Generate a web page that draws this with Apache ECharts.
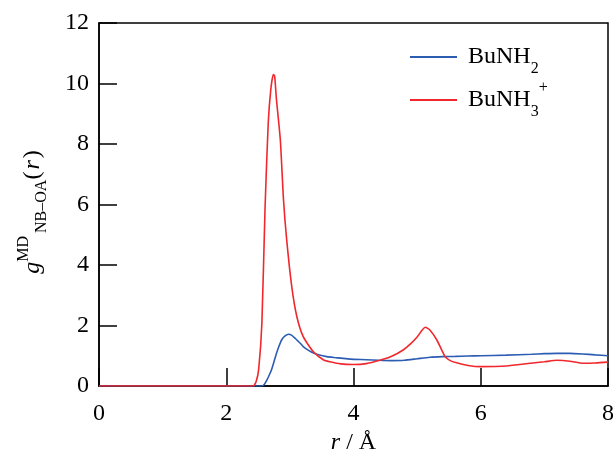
<!DOCTYPE html>
<html>
<head>
<meta charset="utf-8">
<script src="https://cdn.jsdelivr.net/npm/echarts@6/dist/echarts.min.js"></script>
<style>html,body{margin:0;padding:0;background:#fff}#c{width:616px;height:454px}</style>
</head>
<body>
<div id="c"></div>
<script>
// ---- data ----
const xTicks = [0, 2, 4, 6, 8];
const yTicks = [0, 2, 4, 6, 8, 10, 12];
const seriesNames = ['BuNH2', 'BuNH3+'];

const rBlue = [0, 2.5, 2.56, 2.6, 2.64, 2.68, 2.71, 2.75, 2.79, 2.83, 2.87, 2.92, 2.98, 3.02, 3.08, 3.12, 3.16, 3.21, 3.3, 3.37, 3.45, 3.58, 3.7, 3.8, 3.95, 4.2, 4.4, 4.6, 4.8, 5.0, 5.2, 5.4, 5.6, 5.8, 6.0, 6.4, 6.8, 7.0, 7.2, 7.4, 7.6, 7.8, 8.0];
const gBlue = [0, 0, 0, 0.06, 0.2, 0.38, 0.53, 0.8, 1.08, 1.32, 1.52, 1.65, 1.71, 1.69, 1.58, 1.5, 1.42, 1.3, 1.17, 1.09, 1.03, 0.97, 0.94, 0.92, 0.89, 0.87, 0.85, 0.84, 0.85, 0.9, 0.95, 0.97, 0.98, 0.99, 1.0, 1.02, 1.05, 1.07, 1.08, 1.08, 1.06, 1.03, 1.0];

const rRed = [0, 2.42, 2.47, 2.51, 2.56, 2.61, 2.66, 2.7, 2.74, 2.76, 2.79, 2.85, 2.9, 2.95, 3.03, 3.11, 3.21, 3.37, 3.53, 3.63, 3.8, 4.0, 4.2, 4.4, 4.6, 4.78, 4.9, 5.0, 5.08, 5.13, 5.2, 5.31, 5.44, 5.52, 5.62, 5.8, 6.0, 6.4, 6.78, 7.0, 7.2, 7.4, 7.61, 7.8, 8.0];
const gRed = [0, 0, 0.15, 0.56, 2.07, 5.9, 8.7, 9.8, 10.3, 10.25, 9.45, 8.13, 6.15, 4.83, 3.28, 2.29, 1.63, 1.13, 0.86, 0.8, 0.73, 0.71, 0.74, 0.84, 0.98, 1.19, 1.4, 1.62, 1.85, 1.94, 1.85, 1.52, 0.97, 0.84, 0.77, 0.68, 0.64, 0.66, 0.75, 0.8, 0.85, 0.82, 0.75, 0.76, 0.79];

const FONT = 'Liberation Serif';

const chart = echarts.init(document.getElementById('c'), null, {renderer: 'canvas'});
const zip = (xs, ys) => xs.map((x, i) => [x, ys[i]]);

chart.setOption({
  animation: false,
  backgroundColor: '#fff',
  textStyle: {fontFamily: FONT},
  grid: {left: 99, right: 8, top: 23, bottom: 68, containLabel: false, outerBoundsMode: 'none',
         show: true, borderColor: '#000', borderWidth: 1.5, backgroundColor: 'transparent'},
  xAxis: {
    type: 'value', min: xTicks[0], max: xTicks[xTicks.length - 1], interval: 2,
    axisLine: {lineStyle: {color: '#000', width: 1.5}},
    axisTick: {inside: true, length: 18, lineStyle: {color: '#000', width: 1.5}},
    axisLabel: {margin: 16, fontSize: 24, fontFamily: FONT, color: '#000'},
    splitLine: {show: false},
    name: '{i|r}{n| / Å}', nameLocation: 'middle', nameGap: 40,
    nameTextStyle: {fontFamily: FONT, fontSize: 24, rich: {
      i: {fontSize: 24, fontStyle: 'italic', fontFamily: FONT, color: '#000'},
      n: {fontSize: 24, fontFamily: FONT, color: '#000'}
    }}
  },
  yAxis: {
    type: 'value', min: yTicks[0], max: yTicks[yTicks.length - 1], interval: 2,
    axisLine: {show: true, lineStyle: {color: '#000', width: 1.5}},
    axisTick: {show: true, inside: true, length: 18, lineStyle: {color: '#000', width: 1.5}},
    axisLabel: {margin: 10, fontSize: 24, fontFamily: FONT, color: '#000'},
    splitLine: {show: false}
  },
  legend: {
    left: 410, top: 37, orient: 'vertical', icon: 'rect', itemWidth: 47, itemHeight: 2, itemGap: 3, padding: 0,
    data: seriesNames,
    formatter: function (name) {
      return name === 'BuNH2' ? '{m|BuNH}{s|2}' : '{m|BuNH}{s|3}{p|+}';
    },
    textStyle: {
      fontFamily: FONT, fontSize: 24, color: '#000', lineHeight: 40,
      rich: {
        m: {fontFamily: FONT, fontSize: 24, lineHeight: 40, color: '#000', padding: [0, 0, 0, 6]},
        s: {fontFamily: FONT, fontSize: 16, lineHeight: 24, verticalAlign: 'bottom', color: '#000'},
        p: {fontFamily: FONT, fontSize: 16, lineHeight: 16, verticalAlign: 'top', color: '#000'}
      }
    }
  },
  graphic: [{
    type: 'text', x: 33, y: 212, rotation: Math.PI / 2, silent: true,
    style: {
      text: '{g|g}{sp|MD}{sb|NB–OA}{p|(}{r|r}{p|)}',
      align: 'center', verticalAlign: 'middle', textAlign: 'center', textVerticalAlign: 'middle',
      fill: '#000',
      rich: {
        g: {fontFamily: FONT, fontSize: 24, fontStyle: 'italic', lineHeight: 34, fill: '#000'},
        sp: {fontFamily: FONT, fontSize: 16, lineHeight: 16, verticalAlign: 'top', fill: '#000'},
        sb: {fontFamily: FONT, fontSize: 16, lineHeight: 16, verticalAlign: 'bottom', fill: '#000', padding: [0, 0, 0, 3]},
        p: {fontFamily: FONT, fontSize: 24, lineHeight: 34, fill: '#000'},
        r: {fontFamily: FONT, fontSize: 24, fontStyle: 'italic', lineHeight: 34, fill: '#000', padding: [0, 2, 0, 2]}
      }
    }
  }],
  series: [
    {name: seriesNames[0], type: 'line', data: zip(rBlue, gBlue), showSymbol: false, smooth: 0.2,
     lineStyle: {color: '#2c5db3', width: 1.6}, itemStyle: {color: '#2c5db3'}, z: 3},
    {name: seriesNames[1], type: 'line', data: zip(rRed, gRed), showSymbol: false, smooth: 0.2,
     lineStyle: {color: '#f0282d', width: 1.6}, itemStyle: {color: '#f0282d'}, z: 4}
  ]
});
</script>
</body>
</html>
